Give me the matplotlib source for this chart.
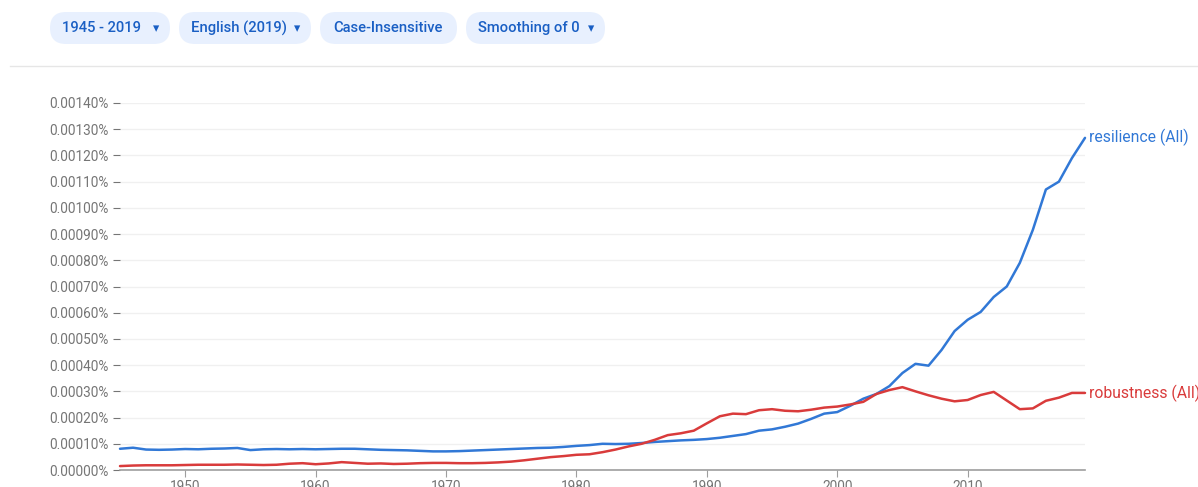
import numpy as np
import matplotlib.pyplot as plt
from matplotlib.patches import FancyBboxPatch

# Google Ngram: resilience vs robustness, 1945-2019 (values in percent)
years = np.arange(1945, 2020)

resilience = [
    0.000081, 0.000085, 0.000078, 0.000077, 0.000078, 0.000080,  # 1945-1950
    0.000079, 0.000081, 0.000082, 0.000084, 0.000076, 0.000079,  # 1951-1956
    0.000080, 0.000079, 0.000080, 0.000079, 0.000080, 0.000081,  # 1957-1962
    0.000081, 0.000079, 0.000077, 0.000076, 0.000075, 0.000073,  # 1963-1968
    0.000071, 0.000071, 0.000072, 0.000074, 0.000076, 0.000078,  # 1969-1974
    0.000080, 0.000082, 0.000084, 0.000085, 0.000088, 0.000092,  # 1975-1980
    0.000095, 0.000100, 0.000099, 0.000100, 0.000103, 0.000107,  # 1981-1986
    0.000110, 0.000113, 0.000115, 0.000118, 0.000123, 0.000130,  # 1987-1992
    0.000137, 0.000150, 0.000155, 0.000165, 0.000177, 0.000195,  # 1993-1998
    0.000215, 0.000221, 0.000245, 0.000272, 0.000290, 0.000320,  # 1999-2004
    0.000370, 0.000405, 0.000398, 0.000458, 0.000530, 0.000573,  # 2005-2010
    0.000603, 0.000660, 0.000700, 0.000790, 0.000916, 0.001070,  # 2011-2016
    0.001100, 0.001190, 0.001267,                                # 2017-2019
]

robustness = [
    0.000015, 0.000017, 0.000018, 0.000018, 0.000018, 0.000019,  # 1945-1950
    0.000020, 0.000020, 0.000020, 0.000021, 0.000020, 0.000019,  # 1951-1956
    0.000020, 0.000024, 0.000026, 0.000022, 0.000025, 0.000030,  # 1957-1962
    0.000027, 0.000024, 0.000025, 0.000023, 0.000024, 0.000026,  # 1963-1968
    0.000027, 0.000027, 0.000026, 0.000026, 0.000027, 0.000029,  # 1969-1974
    0.000032, 0.000037, 0.000043, 0.000049, 0.000053, 0.000058,  # 1975-1980
    0.000060, 0.000068, 0.000078, 0.000090, 0.000100, 0.000115,  # 1981-1986
    0.000133, 0.000140, 0.000150, 0.000178, 0.000205, 0.000215,  # 1987-1992
    0.000213, 0.000228, 0.000232, 0.000226, 0.000224, 0.000230,  # 1993-1998
    0.000238, 0.000242, 0.000250, 0.000260, 0.000290, 0.000305,  # 1999-2004
    0.000316, 0.000300, 0.000285, 0.000272, 0.000262, 0.000267,  # 2005-2010
    0.000286, 0.000298, 0.000265, 0.000232, 0.000235, 0.000264,  # 2011-2016
    0.000276, 0.000294, 0.000294,                                # 2017-2019
]

series_names = ["resilience (All)", "robustness (All)"]
chips = ["1945 - 2019", "English (2019)", "Case-Insensitive", "Smoothing of 0"]
chip_has_caret = [True, True, False, True]
yticks = np.arange(0, 0.00141, 0.0001)
xticks = [1950, 1960, 1970, 1980, 1990, 2000, 2010]

BLUE = "#3178d6"
RED = "#d93b3b"
GREY = "#757575"
CHIP_TXT = "#1a5fc4"
W, H = 1198, 487

plt.rcParams['font.family'] = ['Roboto', 'DejaVu Sans']
fig = plt.figure(figsize=(W / 100, H / 100), dpi=100)

# overlay in pixel coordinates for the header
top = fig.add_axes([0, 0, 1, 1])
top.set_xlim(0, W)
top.set_ylim(H, 0)
top.axis("off")

chip_x = [50, 179, 320, 466]
chip_w = [120, 132, 137, 139]
for x, w, label, caret in zip(chip_x, chip_w, chips, chip_has_caret):
    top.add_patch(FancyBboxPatch((x, 12), w, 32,
                                 boxstyle="round,pad=0,rounding_size=16",
                                 facecolor="#e8f0fe", edgecolor="none"))
    if caret:
        top.text(x + 12, 28, label, ha="left", va="center", color=CHIP_TXT,
                 fontsize=10.6, fontweight="medium")
        top.text(x + w - 14, 29, "\u25be", ha="center", va="center",
                 color=CHIP_TXT, fontsize=9, family=['DejaVu Sans'])
    else:
        top.text(x + w / 2, 28, label, ha="center", va="center", color=CHIP_TXT,
                 fontsize=10.6, fontweight="medium")

top.plot([10, W], [66, 66], color="#e6e6e6", lw=1)

ax = fig.add_axes([120 / W, 17 / H, 965 / W, 367 / H])
ax.plot(years, resilience, color=BLUE, lw=1.8, clip_on=False,
        solid_joinstyle="round", solid_capstyle="round")
ax.plot(years, robustness, color=RED, lw=1.8, clip_on=False,
        solid_joinstyle="round", solid_capstyle="round")
ax.text(2019.3, resilience[-1], series_names[0], color=BLUE,
        fontsize=11.3, va="center", ha="left", clip_on=False)
ax.text(2019.3, robustness[-1], series_names[1], color=RED, fontsize=11.3,
        va="center", ha="left", clip_on=False)

ax.set_xlim(1945, 2019)
ax.set_ylim(0, 0.0014)
ax.set_yticks(yticks)
ax.set_yticklabels(["%.5f%%" % v for v in yticks])
ax.set_xticks(xticks)
ax.set_xticklabels([str(x) for x in xticks])
ax.grid(axis="y", color="#f0f0f0", lw=1)
ax.set_axisbelow(True)
for s in ["top", "right", "left"]:
    ax.spines[s].set_visible(False)
ax.spines["bottom"].set_color("#9e9e9e")
ax.spines["bottom"].set_linewidth(1.2)
ax.tick_params(axis="y", length=5, color=GREY, labelcolor=GREY, labelsize=9.8, pad=3)
ax.tick_params(axis="x", length=5, color="#9e9e9e", labelcolor=GREY, labelsize=9.8, pad=2)

fig.savefig("out.png", dpi=100)
